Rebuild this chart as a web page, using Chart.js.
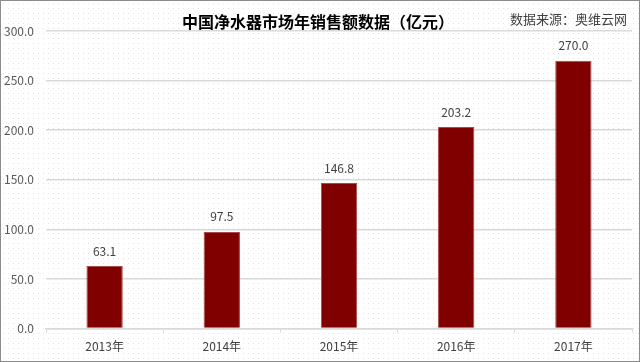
<!DOCTYPE html>
<html>
<head>
<meta charset="utf-8">
<style>
    body { margin: 0; background: #fff; }
    #wrap {
        width: 638px; height: 360px; border: 1px solid #8c8c8c; position: relative;
        background-color: #fff;
        background-image: radial-gradient(circle, #e4e4e4 0.7px, transparent 0.9px);
        background-size: 5px 5px;
    }
</style>
</head>
<body>
<div id="wrap"><canvas id="myChart" width="638" height="360"></canvas></div>
<script src="https://cdn.jsdelivr.net/npm/chart.js"></script>
<script>
    const years = ['2013年', '2014年', '2015年', '2016年', '2017年'];
    const sales = [63.1, 97.5, 146.8, 203.2, 270.0];
    const title = '中国净水器市场年销售额数据（亿元）';
    const source = '数据来源：奥维云网';
    const fontFamily = '"Noto Sans CJK SC", "Noto Sans", sans-serif';

    const extras = {
        id: 'extras',
        afterDatasetsDraw(chart) {
            const ctx = chart.ctx;
            ctx.save();
            ctx.fillStyle = '#404040';
            ctx.font = '12px ' + fontFamily;
            ctx.textAlign = 'center';
            ctx.textBaseline = 'bottom';
            chart.getDatasetMeta(0).data.forEach(function (bar, i) {
                ctx.fillText(sales[i].toFixed(1), bar.x, bar.y - 9);
            });
            ctx.fillStyle = '#000';
            ctx.font = 'bold 16px ' + fontFamily;
            ctx.textBaseline = 'middle';
            ctx.fillText(title, 317, 21);
            ctx.fillStyle = '#404040';
            ctx.font = '13px ' + fontFamily;
            ctx.textAlign = 'right';
            ctx.fillText(source, 626, 18);
            ctx.restore();
        }
    };

    new Chart(document.getElementById('myChart'), {
        type: 'bar',
        data: {
            labels: years,
            datasets: [{
                data: sales,
                backgroundColor: '#800000',
                borderColor: '#a84848',
                borderWidth: 1,
                barPercentage: 0.62,
                categoryPercentage: 0.5,
            }],
        },
        options: {
            responsive: false,
            animation: false,
            layout: { padding: { top: 30, right: 7, left: 0, bottom: 0 } },
            plugins: { legend: { display: false }, tooltip: { enabled: false } },
            scales: {
                y: {
                    min: 0,
                    max: 300,
                    afterFit: function (scale) { scale.width = 45; },
                    ticks: {
                        stepSize: 50,
                        color: '#595959',
                        font: { size: 12, family: fontFamily },
                        padding: 12,
                        callback: function (v) { return v.toFixed(1); },
                    },
                    grid: { color: '#d9d9d9', lineWidth: 1.5, drawTicks: false },
                    border: { display: false },
                },
                x: {
                    ticks: {
                        color: '#404040',
                        font: { size: 12, family: fontFamily },
                        padding: 7,
                    },
                    grid: { offset: true, drawOnChartArea: false, color: '#d9d9d9', tickLength: 4 },
                    border: { color: '#d9d9d9', width: 1.5 },
                },
            },
        },
        plugins: [extras],
    });
</script>
</body>
</html>
